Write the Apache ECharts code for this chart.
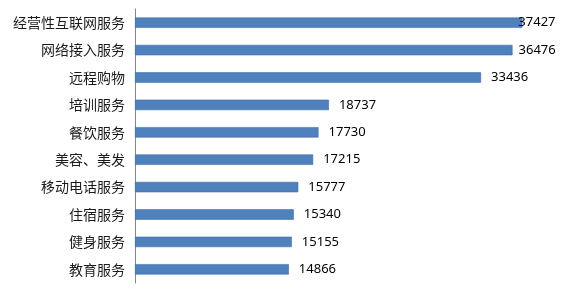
<!DOCTYPE html>
<html>
<head>
<meta charset="utf-8">
<script src="https://cdn.jsdelivr.net/npm/echarts@6/dist/echarts.min.js"></script>
<style>html,body{margin:0;padding:0;background:#fff}#c{width:580px;height:300px}</style>
</head>
<body>
<div id="c"></div>
<script>
const categories = ['经营性互联网服务','网络接入服务','远程购物','培训服务','餐饮服务','美容、美发','移动电话服务','住宿服务','健身服务','教育服务'];
const values = [37427, 36476, 33436, 18737, 17730, 17215, 15777, 15340, 15155, 14866];

const chart = echarts.init(document.getElementById('c'), null, {renderer: 'canvas'});
const labelDistance = [-4, 6];
chart.setOption({
  backgroundColor: '#ffffff',
  animation: false,
  grid: {left: 135, right: 31, top: 9, bottom: 17, containLabel: false},
  xAxis: {
    type: 'value', min: 0, max: 40000,
    show: false
  },
  yAxis: {
    type: 'category',
    data: categories,
    inverse: true,
    axisLine: {show: true, lineStyle: {color: '#868686', width: 1}},
    axisTick: {show: false},
    axisLabel: {color: '#1a1a1a', fontSize: 14, margin: 10, fontFamily: 'Noto Sans CJK SC'}
  },
  series: [{
    type: 'bar',
    barWidth: '38%',
    data: values.map((v, i) => ({
      value: v,
      label: {distance: i < labelDistance.length ? labelDistance[i] : 10}
    })),
    itemStyle: {color: '#4F81BD', borderColor: '#3f6fa8', borderWidth: 0.6},
    label: {
      show: true, position: 'right', color: '#000', fontSize: 13,
      fontFamily: 'Noto Sans'
    }
  }]
});
</script>
</body>
</html>
